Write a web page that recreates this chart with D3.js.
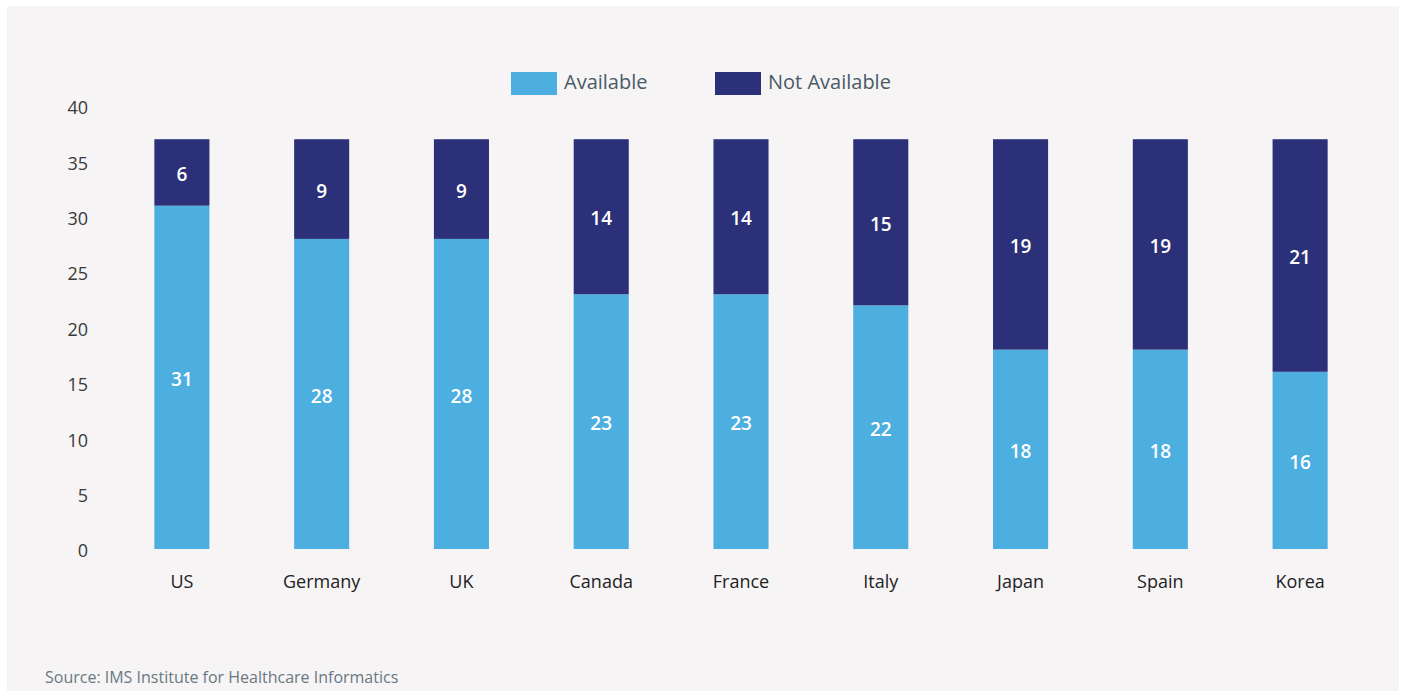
<!DOCTYPE html>
<html>
<head>
<meta charset="utf-8">
<script src="https://cdnjs.cloudflare.com/ajax/libs/d3/7.8.5/d3.min.js"></script>
<style>
  body { margin: 0; background: #fff; }
  svg { display: block; font-family: "Open Sans", sans-serif; }
</style>
</head>
<body>
<div id="chart"></div>
<script>
const width = 1403;
const height = 691;

// data
const countries = ["US", "Germany", "UK", "Canada", "France", "Italy", "Japan", "Spain", "Korea"];
const available = [31, 28, 28, 23, 23, 22, 18, 18, 16];
const notAvailable = [6, 9, 9, 14, 14, 15, 19, 19, 21];
const yTicks = [0, 5, 10, 15, 20, 25, 30, 35, 40];
const seriesNames = ["Available", "Not Available"];
const colors = ["#4daee0", "#2b3078"];

const svg = d3.select("#chart")
  .append("svg")
  .attr("width", width)
  .attr("height", height);

// panel background
svg.append("rect")
  .attr("x", 7)
  .attr("y", 6)
  .attr("width", 1392)
  .attr("height", 685)
  .attr("fill", "#f6f4f5");

const x = d3.scaleBand()
  .domain(countries)
  .range([112, 1370])
  .paddingInner(0.606)
  .paddingOuter(0.303);

const y = d3.scaleLinear()
  .domain([0, 40])
  .range([549, 106]);

const rows = countries.map((c, i) => ({ country: c, Available: available[i], "Not Available": notAvailable[i] }));
const stacked = d3.stack().keys(seriesNames)(rows);

// y axis labels only
const yAxis = svg.append("g")
  .attr("transform", "translate(88,2)")
  .call(d3.axisLeft(y).tickValues(yTicks).tickSize(0).tickPadding(0));
yAxis.select(".domain").remove();
yAxis.selectAll("text")
  .attr("fill", "#3a3a3a")
  .style("font-size", "18px")
  .style("font-family", "'Open Sans', sans-serif");

// x axis labels
const xAxis = svg.append("g")
  .attr("transform", "translate(0,575)")
  .call(d3.axisBottom(x).tickSize(0).tickPadding(0));
xAxis.select(".domain").remove();
xAxis.selectAll("text")
  .attr("fill", "#222")
  .style("font-size", "18px")
  .style("font-family", "'Open Sans', sans-serif");

// bars
const layer = svg.selectAll(".layer")
  .data(stacked)
  .enter().append("g")
  .attr("class", "layer")
  .attr("fill", (d, i) => colors[i]);

layer.selectAll("rect")
  .data(d => d)
  .enter().append("rect")
  .attr("x", d => x(d.data.country))
  .attr("y", d => y(d[1]))
  .attr("width", x.bandwidth())
  .attr("height", d => y(d[0]) - y(d[1]));

// segment values
layer.selectAll(".val")
  .data(d => d)
  .enter().append("text")
  .attr("class", "val")
  .attr("x", d => x(d.data.country) + x.bandwidth() / 2)
  .attr("y", d => y((d[0] + d[1]) / 2) + 2)
  .attr("dy", "0.35em")
  .attr("text-anchor", "middle")
  .attr("fill", "#fff")
  .style("font-size", "19px")
  .style("font-weight", "600")
  .text(d => d[1] - d[0]);

// legend
const legendX = [511, 715];
const legend = svg.selectAll(".legend")
  .data(seriesNames)
  .enter().append("g")
  .attr("class", "legend")
  .attr("transform", (d, i) => `translate(${legendX[i]},72)`);

legend.append("rect")
  .attr("width", 46)
  .attr("height", 23)
  .attr("fill", (d, i) => colors[i]);

legend.append("text")
  .attr("x", 53)
  .attr("y", 10)
  .attr("dy", "0.35em")
  .attr("fill", "#4a5a66")
  .style("font-size", "20px")
  .text(d => d);

// source
svg.append("text")
  .attr("x", 45)
  .attr("y", 683)
  .attr("fill", "#6a7882")
  .style("font-size", "16px")
  .text("Source: IMS Institute for Healthcare Informatics");
</script>
</body>
</html>
